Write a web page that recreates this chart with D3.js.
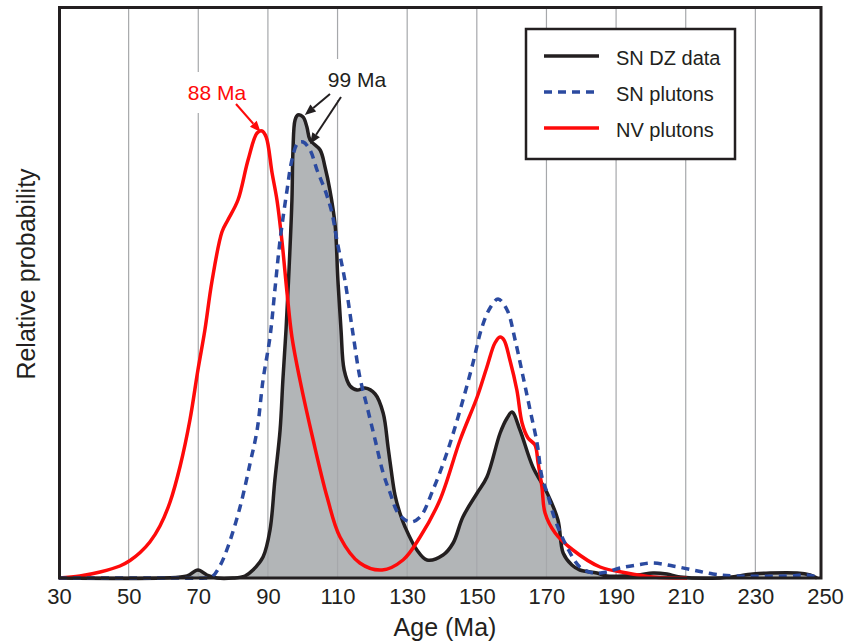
<!DOCTYPE html>
<html>
<head>
<meta charset="utf-8">
<script src="https://cdn.jsdelivr.net/npm/d3@7"></script>
<style>
  body { margin: 0; background: #fff; }
  text { font-family: "Liberation Sans", Arial, Helvetica, sans-serif; fill: #231f20; }
</style>
</head>
<body>
<div id="chart"></div>
<script>
// x ticks (Ma)
var ageTicks = [30, 50, 70, 90, 110, 130, 150, 170, 190, 210, 230, 250];

// relative probability curves, [age (Ma), relative probability]
var snDZ = [
  [30, 0], [60, 0], [66.8, 0.2], [69.9, 0.8], [72.5, 0.3], [75.4, 0], [80, 0], [83.4, 0.2],
  [85.7, 0.8], [88.6, 2.1], [90.6, 4.8], [92.0, 9.8], [93.5, 14.8], [94.3, 19.8], [95.2, 24.8],
  [96.1, 31.1], [96.9, 37.8], [97.2, 42.8], [97.8, 45.8], [98.6, 46.3], [100.1, 46.1],
  [101.2, 45.1], [102.1, 43.8], [105.0, 42.8], [106.4, 41.1], [107.8, 38.8], [109.3, 35.3],
  [110.1, 29.8], [111.0, 24.8], [111.9, 20.8], [113.6, 19.2], [115.6, 18.8], [117.9, 19.0],
  [120.8, 18.4], [123.1, 16.5], [124.5, 13.1], [125.4, 10.8], [126.5, 8.3], [127.9, 6.5],
  [129.4, 5.1], [132.8, 2.8], [135.7, 1.8], [140.3, 2.3], [143.2, 3.5], [146.0, 6.1],
  [150.1, 8.5], [152.9, 10.1], [156.7, 14.5], [158.7, 16.0], [160.1, 16.6], [162.4, 14.8],
  [166.1, 11.1], [170.2, 8.5], [173.3, 5.8], [174.8, 2.5], [177.3, 1.3], [179.6, 0.8],
  [184.5, 0.5], [187.4, 0.2], [196.0, 0.3], [200.6, 0.5], [204.6, 0.4], [208.4, 0.1],
  [219.8, 0], [229.3, 0.4], [234.2, 0.5], [242.0, 0.5], [245.7, 0.3], [247.7, 0]
];

var snPlutons = [
  [30, 0], [60, 0], [71.9, 0], [73.9, 0.1], [76.2, 1.2], [78.5, 3.1], [82.0, 7.1], [84.9, 11.5],
  [86.9, 14.8], [88.6, 19.8], [90.6, 24.1], [92.0, 28.8], [93.5, 33.8], [95.5, 38.8],
  [96.9, 41.8], [98.6, 43.5], [100.1, 43.6], [102.1, 42.8], [104.1, 40.8], [106.4, 38.8],
  [108.4, 36.5], [109.8, 33.8], [112.1, 29.8], [114.4, 24.5], [116.4, 20.1], [118.5, 17.1],
  [120.8, 13.8], [123.1, 10.5], [125.1, 8.5], [127.4, 6.5], [130.8, 5.6], [133.7, 6.1],
  [137.4, 8.8], [141.4, 12.5], [145.2, 16.8], [148.6, 21.1], [151.5, 25.1], [153.8, 27.0],
  [156.1, 27.9], [158.7, 26.8], [161.0, 23.8], [163.3, 20.1], [165.3, 16.8], [167.3, 13.5],
  [168.7, 10.1], [170.2, 8.5], [172.5, 5.8], [175.9, 3.1], [179.6, 1.1], [183.4, 0.5],
  [187.4, 0.6], [191.1, 1.0], [196.0, 1.3], [200.6, 1.5], [206.3, 1.2], [212.1, 0.8],
  [217.8, 0.4], [224.7, 0.2], [239.1, 0.2], [244.8, 0.3], [248.6, 0]
];

var nvPlutons = [
  [30, 0], [36.0, 0.2], [41.8, 0.6], [47.5, 1.2], [50.4, 1.75], [53.3, 2.55], [56.1, 3.6],
  [59.0, 5.2], [61.9, 7.6], [64.8, 11.2], [67.6, 15.8], [69.9, 20.8], [71.9, 24.8],
  [73.9, 29.6], [76.8, 34.6], [78.5, 35.8], [81.4, 37.8], [84.3, 41.8], [86.9, 44.5],
  [88.3, 44.7], [89.5, 44.1], [91.2, 40.5], [92.6, 37.8], [94.0, 33.8], [95.5, 28.5],
  [96.9, 24.1], [99.2, 19.8], [103.0, 13.8], [107.0, 8.1], [110.7, 4.1], [116.4, 1.5],
  [122.8, 0.8], [128.8, 1.8], [133.7, 4.1], [139.4, 7.8], [145.2, 13.8], [150.1, 18.1],
  [152.9, 21.1], [155.2, 23.5], [156.7, 24.1], [157.8, 23.8], [159.5, 21.8], [161.5, 18.8],
  [163.0, 15.5], [164.7, 14.0], [166.7, 13.3], [167.6, 11.5], [168.7, 9.1], [169.6, 6.5],
  [172.5, 4.5], [177.6, 2.8], [185.4, 1.1], [193.1, 0.5], [200.6, 0.1], [210.4, 0]
];

var seriesNames = ["SN DZ data", "SN plutons", "NV plutons"];

var W = 852, H = 643;
var svg = d3.select("#chart").append("svg").attr("width", W).attr("height", H);

var frame = { left: 59.5, right: 821, top: 7.5, bottom: 578 };
var x = d3.scaleLinear().domain([30, 250]).range([59, 825]);
var y = d3.scaleLinear().domain([0, 57]).range([578, 8]);

var ink = "#231f20", red = "#fe0a0a", blue = "#2b4aa0", fillGray = "#b2b5b7", gridGray = "#a6a8ab";
var smooth = d3.curveCatmullRom.alpha(0.5);

// filled DZ curve
svg.append("path")
  .datum(snDZ)
  .attr("fill", fillGray)
  .attr("d", d3.area().x(d => x(d[0])).y0(y(0)).y1(d => y(d[1])).curve(smooth));

// vertical grid
svg.append("g").selectAll("line")
  .data(ageTicks.slice(1, -1))
  .enter().append("line")
  .attr("x1", d => x(d)).attr("x2", d => x(d))
  .attr("y1", frame.top).attr("y2", frame.bottom)
  .attr("stroke", gridGray).attr("stroke-width", 1.2);

// peak labels (white box hides grid behind them)
var labels = [
  { text: "88 Ma", color: red, tx: 217, ty: 100 },
  { text: "99 Ma", color: ink, tx: 357, ty: 87 }
];
labels.forEach(function (l) {
  var t = svg.append("text")
    .attr("x", l.tx).attr("y", l.ty)
    .attr("text-anchor", "middle")
    .style("font-size", "21px")
    .style("fill", l.color)
    .text(l.text);
  var b = t.node().getBBox();
  svg.insert("rect", "text")
    .attr("x", b.x - 8).attr("y", b.y - 9)
    .attr("width", b.width + 16).attr("height", b.height + 18)
    .attr("fill", "#fff");
});

var line = d3.line().x(d => x(d[0])).y(d => y(d[1])).curve(smooth);

svg.append("path").datum(snDZ)
  .attr("fill", "none").attr("stroke", ink).attr("stroke-width", 3.5)
  .attr("stroke-linejoin", "round").attr("d", line);

svg.append("path").datum(nvPlutons)
  .attr("fill", "none").attr("stroke", red).attr("stroke-width", 3.5)
  .attr("stroke-linejoin", "round").attr("d", line);

svg.append("path").datum(snPlutons)
  .attr("fill", "none").attr("stroke", blue).attr("stroke-width", 3.5)
  .attr("stroke-dasharray", "8,6").attr("d", line);

// arrows pointing at peaks
var arrows = [
  { color: red, from: [236, 104], tip: [87.9, 44.6] },
  { color: ink, from: [330, 94], tip: [100.6, 46.3] },
  { color: ink, from: [341, 97], tip: [102.1, 43.4] }
];
arrows.forEach(function (a) {
  var tx = x(a.tip[0]), ty = y(a.tip[1]);
  var dx = tx - a.from[0], dy = ty - a.from[1];
  var len = Math.sqrt(dx * dx + dy * dy), ux = dx / len, uy = dy / len;
  var hl = 11, hw = 4.5;
  var bx = tx - ux * hl, by = ty - uy * hl;
  svg.append("line")
    .attr("x1", a.from[0]).attr("y1", a.from[1])
    .attr("x2", bx).attr("y2", by)
    .attr("stroke", a.color).attr("stroke-width", 2);
  svg.append("path")
    .attr("d", "M" + tx + "," + ty +
      "L" + (bx - uy * hw) + "," + (by + ux * hw) +
      "L" + (bx + uy * hw) + "," + (by - ux * hw) + "Z")
    .attr("fill", a.color);
});

// frame
svg.append("rect")
  .attr("x", frame.left).attr("y", frame.top)
  .attr("width", frame.right - frame.left).attr("height", frame.bottom - frame.top)
  .attr("fill", "none").attr("stroke", ink).attr("stroke-width", 3);

// x axis
var xAxis = svg.append("g")
  .attr("transform", "translate(0," + frame.bottom + ")")
  .call(d3.axisBottom(x).tickValues(ageTicks).tickSize(0).tickPadding(10));
xAxis.select(".domain").remove();
xAxis.selectAll("text").style("font-size", "22px").attr("fill", ink)
  .style("font-family", "\"Liberation Sans\", Arial, sans-serif");

svg.append("text")
  .attr("x", 445).attr("y", 636)
  .attr("text-anchor", "middle")
  .style("font-size", "25px")
  .text("Age (Ma)");

svg.append("text")
  .attr("transform", "translate(35,274) rotate(-90)")
  .attr("text-anchor", "middle")
  .style("font-size", "25px")
  .text("Relative probability");

// legend
var legend = svg.append("g").attr("transform", "translate(526,29)");
legend.append("rect")
  .attr("width", 209).attr("height", 130)
  .attr("fill", "#fff").attr("stroke", ink).attr("stroke-width", 2.5);

var legendStyle = [
  { color: ink, dash: null },
  { color: blue, dash: "8,6" },
  { color: red, dash: null }
];
seriesNames.forEach(function (name, i) {
  var ly = 27 + i * 36;
  legend.append("line")
    .attr("x1", 18).attr("x2", 73).attr("y1", ly).attr("y2", ly)
    .attr("stroke", legendStyle[i].color).attr("stroke-width", 3.5)
    .attr("stroke-dasharray", legendStyle[i].dash);
  legend.append("text")
    .attr("x", 90).attr("y", ly + 9)
    .style("font-size", "20px")
    .text(name);
});
</script>
</body>
</html>
